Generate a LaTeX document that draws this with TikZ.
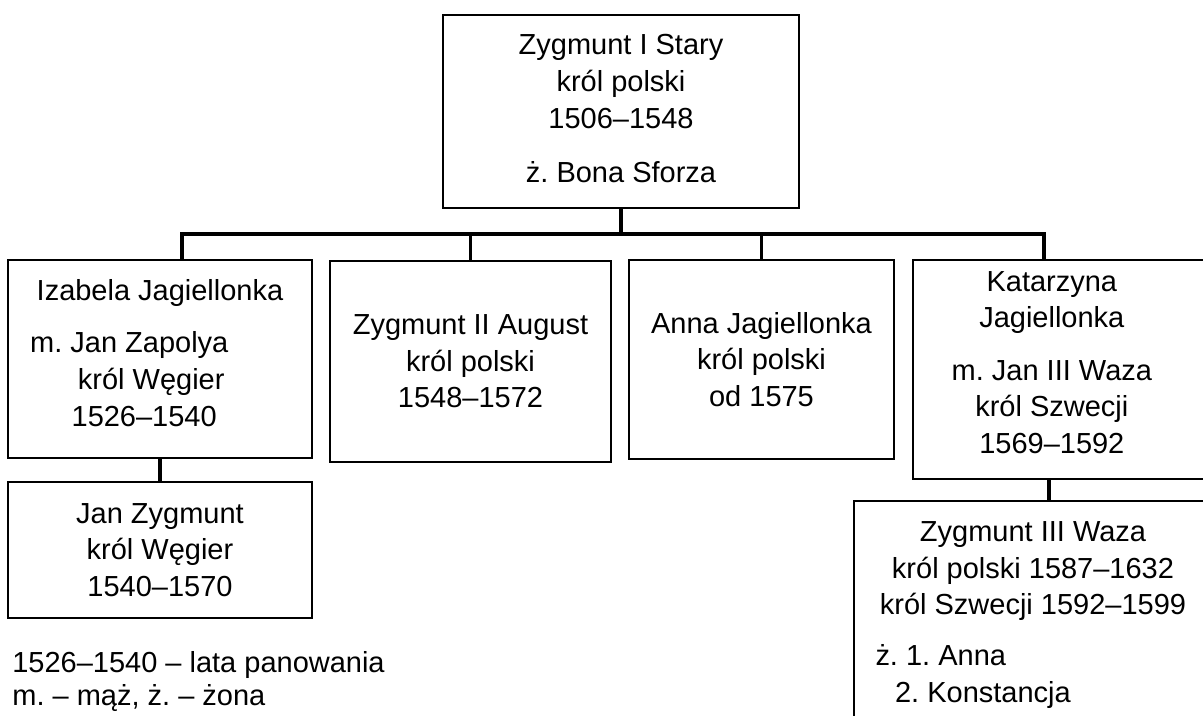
\documentclass[tikz,border=0pt]{standalone}
\usepackage{fontspec}
\setmainfont{Liberation Sans}
\frenchspacing
\newcommand{\padr}[1]{\rule{#1}{0pt}}
\newcommand{\padd}[1]{\rule[-#1]{0pt}{0pt}}
\begin{document}
\begin{tikzpicture}
        [x=0.02cm, y=-0.02cm,
        person/.style={draw, line width=1.1pt, align=center, inner sep=0pt, font=\fontsize{16.5}{20.8}\selectfont},
        link/.style={line width=1.8pt, black, line join=miter},
        legend/.style={anchor=base west, inner sep=0pt, font=\fontsize{16.5}{20.8}\selectfont}]

        \path[use as bounding box] (0,0) rectangle (1203,716);
        \clip (0,0) rectangle (1203,716);

        % parents
        \node[person, minimum width=7.12cm, minimum height=3.86cm] (zyg1) at (621,111.5)
            {Zygmunt I Stary\\ król polski\\ 1506–1548\\[10pt] ż. Bona Sforza\padd{3.5pt}};

        % children
        \node[person, minimum width=6.08cm, minimum height=3.96cm] (izabela) at (160,359)
            {Izabela Jagiellonka\\[9pt] m. Jan Zapolya\padr{35pt}\\ król Węgier\padr{10pt}\\ 1526–1540\padr{18pt}\padd{7pt}};
        \node[person, minimum width=5.62cm, minimum height=4.02cm] (zyg2) at (470.5,361.5)
            {Zygmunt II August\\ król polski\\ 1548–1572};
        \node[person, minimum width=5.30cm, minimum height=3.98cm] (anna) at (761.5,359.5)
            {Anna Jagiellonka\\ król polski\\ od 1575};
        \node[person, minimum width=5.94cm, minimum height=4.38cm] (katarzyna) at (1061.5,369.5)
            {Katarzyna\padr{11pt}\\ Jagiellonka\padr{11pt}\\[9pt] m. Jan III Waza\padr{11pt}\\ król Szwecji\padr{11pt}\\ 1569–1592\padr{11pt}\padd{8pt}};

        % grandchildren
        \node[person, minimum width=6.08cm, minimum height=2.72cm] (janzyg) at (160,550)
            {Jan Zygmunt\\ król Węgier\\ 1540–1570};
        \node[person, minimum width=7.16cm, minimum height=4.56cm] (zyg3) at (1033,615)
            {Zygmunt III Waza\\ król polski 1587–1632\\ król Szwecji 1592–1599\\[8pt] ż. 1. Anna\padr{105pt}\\ 2. Konstancja\padr{57pt}};

        % family lines
        \coordinate (busL) at (182,234);
        \coordinate (busR) at (1044,234);
        \coordinate (stemK) at (1049,490);
        \draw[link] (zyg1.south) -- (zyg1.south |- busL);
        \draw[link] (izabela.north -| busL) -- (busL) -- (busR) -- (busR |- katarzyna.north);
        \draw[link] (zyg2.north) -- (zyg2.north |- busL);
        \draw[link] (anna.north) -- (anna.north |- busL);
        \draw[link] (izabela.south -| janzyg.north) -- (janzyg.north);
        \draw[link] (katarzyna.south -| stemK) -- (zyg3.north -| stemK);

        % legend
        \node[legend] (legyears) at (12,672) {1526–1540 – lata panowania};
        \node[legend] (legkey) at (12,705) {m. – mąż, ż. – żona};

    \end{tikzpicture}
\end{document}
